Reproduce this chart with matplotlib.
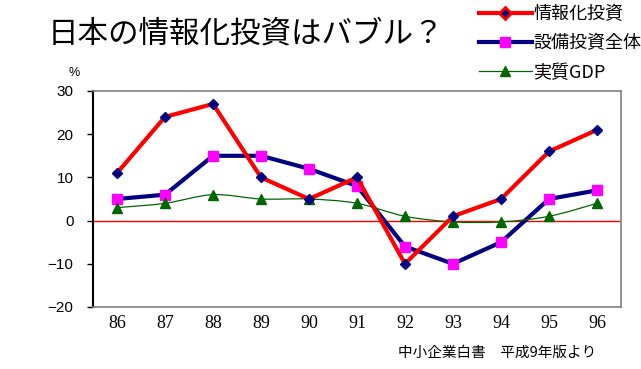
import matplotlib
matplotlib.use("Agg")
import matplotlib.pyplot as plt
from matplotlib.lines import Line2D
from matplotlib.path import Path
from matplotlib.patches import PathPatch

plt.rcParams['font.family'] = ['Noto Sans CJK JP', 'DejaVu Sans']

years = ['86', '87', '88', '89', '90', '91', '92', '93', '94', '95', '96']
info_invest = [11, 24, 27, 10, 5, 10, -10, 1, 5, 16, 21]
total_invest = [5, 6, 15, 15, 12, 8, -6, -10, -5, 5, 7]
real_gdp = [3, 4, 6, 5, 5, 4, 1, -0.3, -0.3, 1, 4]

RED, NAVY, PINK, GREEN = '#ff0000', '#000080', '#ff00ff', '#006600'


def smooth_path(xs, ys):
    # excel-like smoothed line: catmull-rom turned into cubic beziers
    pts = list(zip(xs, ys))
    verts = [pts[0]]
    codes = [Path.MOVETO]
    n = len(pts)
    for i in range(n - 1):
        p0 = pts[max(i - 1, 0)]
        p1 = pts[i]
        p2 = pts[i + 1]
        p3 = pts[min(i + 2, n - 1)]
        c1 = (p1[0] + (p2[0] - p0[0]) / 6, p1[1] + (p2[1] - p0[1]) / 6)
        c2 = (p2[0] - (p3[0] - p1[0]) / 6, p2[1] - (p3[1] - p1[1]) / 6)
        verts += [c1, c2, p2]
        codes += [Path.CURVE4] * 3
    return Path(verts, codes)


fig = plt.figure(figsize=(6.41, 3.69), dpi=100)
ax = fig.add_axes([93 / 641, 62 / 369, 528 / 641, 216 / 369])

x = list(range(len(years)))
ax.axhline(0, color=RED, lw=1, zorder=1)
ax.plot(x, info_invest, color=RED, lw=3, marker='D', ms=5.5,
        mfc=NAVY, mec=NAVY, zorder=3)
ax.plot(x, total_invest, color=NAVY, lw=3, marker='s', ms=7,
        mfc=PINK, mec=PINK, zorder=2)
ax.add_patch(PathPatch(smooth_path(x, real_gdp), fill=False, ec=GREEN,
                       lw=0.9, zorder=2))
ax.plot(x, real_gdp, ls='none', marker='^', ms=7, mfc=GREEN, mec=GREEN,
        zorder=2)

ax.set_xlim(-0.5, len(years) - 0.5)
ax.set_ylim(-20, 30)
ax.set_yticks([-20, -10, 0, 10, 20, 30])
ax.set_xticks(x)
ax.set_xticklabels(years, family='Liberation Serif', fontsize=13)
ax.tick_params(axis='x', length=0, pad=6)
ax.tick_params(axis='y', direction='out', length=4, width=1, pad=10, labelsize=11)
for lab in ax.get_yticklabels():
    lab.set_family('Liberation Sans')

ax.spines['left'].set_color('black')
ax.spines['left'].set_linewidth(1.5)
for s in ['top', 'right', 'bottom']:
    ax.spines[s].set_color('#808080')
    ax.spines[s].set_linewidth(1.2)

fig.text(74 / 641, 1 - 73 / 369, '%', fontsize=9, ha='center', va='center',
         family='Liberation Sans')
fig.text(48 / 641, 1 - 34 / 369, '日本の情報化投資はバブル？', fontsize=22,
         ha='left', va='center')
fig.text(398 / 641, 1 - 353 / 369, '中小企業白書　平成9年版より', fontsize=10.5,
         ha='left', va='center')

handles = [
    Line2D([], [], color=RED, lw=3, marker='D', ms=6, mfc=NAVY, mec=RED, mew=2),
    Line2D([], [], color=NAVY, lw=3, marker='s', ms=7, mfc=PINK, mec=PINK),
    Line2D([], [], color=GREEN, lw=0.9, marker='^', ms=7, mfc=GREEN, mec=GREEN),
]
labels = ['情報化投資', '設備投資全体', '実質GDP']
fig.legend(handles, labels, loc='upper left',
           bbox_to_anchor=(472 / 641, 1 + 2 / 369),
           frameon=False, fontsize=13, handlelength=2.9, handletextpad=0.1,
           labelspacing=0.62, borderaxespad=0)

fig.savefig('out.png', dpi=100)
